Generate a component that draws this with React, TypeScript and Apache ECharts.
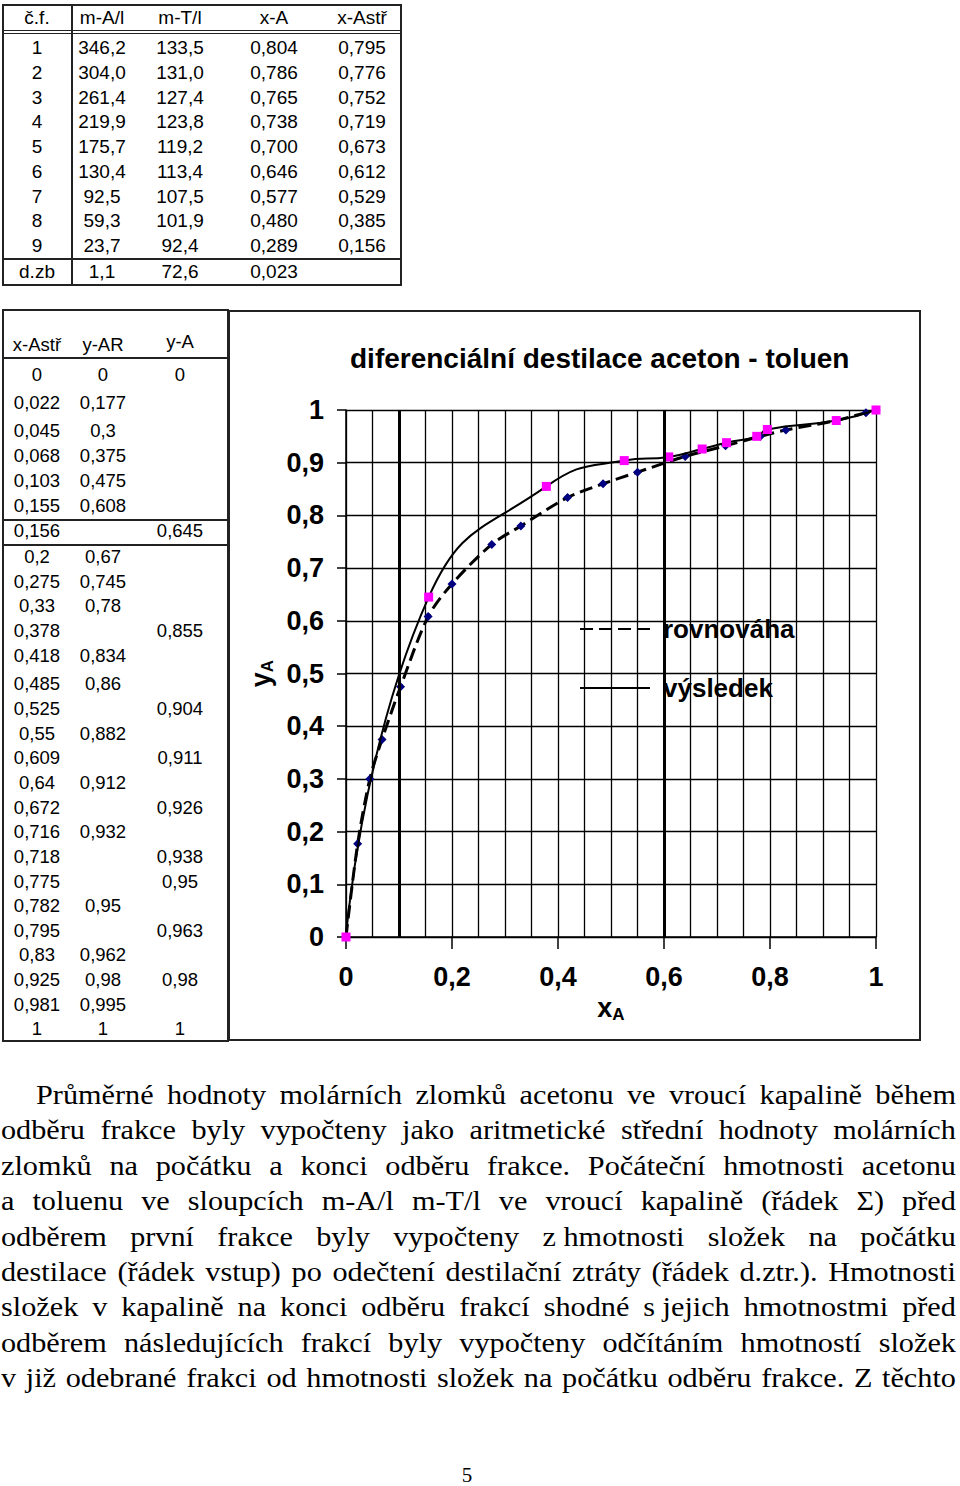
import React, { useEffect, useRef } from "react";
import * as echarts from "echarts";

// ---- Top table: fractions ----
const fractionLabels = ["1", "2", "3", "4", "5", "6", "7", "8", "9"];
const massA = [346.2, 304.0, 261.4, 219.9, 175.7, 130.4, 92.5, 59.3, 23.7];
const massT = [133.5, 131.0, 127.4, 123.8, 119.2, 113.4, 107.5, 101.9, 92.4];
const xAValues = [0.804, 0.786, 0.765, 0.738, 0.7, 0.646, 0.577, 0.48, 0.289];
const xAStrValues = [0.795, 0.776, 0.752, 0.719, 0.673, 0.612, 0.529, 0.385, 0.156];
const lossLabel = "d.zb";
const lossMassA = 1.1;
const lossMassT = 72.6;
const lossXA = 0.023;
const topHeaders = ["č.f.", "m-A/l", "m-T/l", "x-A", "x-Astř"];

// ---- Second table / chart data ----
const tableHeaders = ["x-Astř", "y-AR", "y-A"];
const xAStr = [
  0, 0.022, 0.045, 0.068, 0.103, 0.155, 0.156, 0.2, 0.275, 0.33, 0.378, 0.418, 0.485, 0.525,
  0.55, 0.609, 0.64, 0.672, 0.716, 0.718, 0.775, 0.782, 0.795, 0.83, 0.925, 0.981, 1,
];
const yAR: (number | null)[] = [
  0, 0.177, 0.3, 0.375, 0.475, 0.608, null, 0.67, 0.745, 0.78, null, 0.834, 0.86, null,
  0.882, null, 0.912, null, 0.932, null, null, 0.95, null, 0.962, 0.98, 0.995, 1,
];
const yA: (number | null)[] = [
  0, null, null, null, null, null, 0.645, null, null, null, 0.855, null, null, 0.904,
  null, 0.911, null, 0.926, null, 0.938, 0.95, null, 0.963, null, 0.98, null, 1,
];
const heavyGridX = [0.1, 0.6];

const chartTitle = "diferenciální destilace aceton - toluen";
const seriesNames = ["rovnováha", "výsledek"];

const paragraphLines = [
  "Průměrné hodnoty molárních zlomků acetonu ve vroucí kapalině během",
  "odběru frakce byly vypočteny jako aritmetické střední hodnoty molárních",
  "zlomků na počátku a konci odběru frakce. Počáteční hmotnosti acetonu",
  "a toluenu ve sloupcích m-A/l m-T/l ve vroucí kapalině (řádek Σ) před",
  "odběrem první frakce byly vypočteny z\u00a0hmotnosti složek na počátku",
  "destilace (řádek vstup) po odečtení destilační ztráty (řádek d.ztr.). Hmotnosti",
  "složek v kapalině na konci odběru frakcí shodné s\u00a0jejich hmotnostmi před",
  "odběrem následujících frakcí byly vypočteny odčítáním hmotností složek",
  "v již odebrané frakci od hmotnosti složek na počátku odběru frakce. Z těchto",
];
const pageNumber = "5";

// layout of the side table rows (text centres, px)
const sideRowY = [
  375, 403, 431, 456, 481, 506, 531, 557, 582, 606, 631, 656, 684, 709, 734, 758, 783, 808,
  832, 857, 882, 906, 931, 955, 980, 1005, 1029,
];

const comma = (s: string) => s.replace(".", ",");
const fmtNum = (v: number) => comma(String(+v.toFixed(3)));

const SANS = '"Liberation Sans", Arial, Helvetica, sans-serif';
const SERIF = '"Liberation Serif", "Times New Roman", serif';
const LINE = "#222";

function Cell({ cx, cy, text, size = 19 }: { cx: number; cy: number; text: string; size?: number }) {
  return (
    <div
      style={{
        position: "absolute",
        left: cx - 50,
        width: 100,
        top: cy - 11,
        height: 22,
        lineHeight: "22px",
        textAlign: "center",
        fontSize: size,
        fontFamily: SANS,
        color: "#000",
        whiteSpace: "nowrap",
      }}
    >
      {text}
    </div>
  );
}

function HLine({ x1, x2, y, w = 1 }: { x1: number; x2: number; y: number; w?: number }) {
  return <div style={{ position: "absolute", left: x1, top: y, width: x2 - x1, height: w, background: LINE }} />;
}
function VLine({ x, y1, y2, w = 1 }: { x: number; y1: number; y2: number; w?: number }) {
  return <div style={{ position: "absolute", left: x, top: y1, width: w, height: y2 - y1, background: LINE }} />;
}

function TopTable() {
  const cols = [37, 102, 180, 274, 362];
  const rowY = (i: number) => 48 + i * 24.75;
  return (
    <>
      <div
        style={{
          position: "absolute",
          left: 2,
          top: 4,
          width: 400,
          height: 282,
          border: `2px solid ${LINE}`,
          boxSizing: "border-box",
        }}
      />
      <VLine x={71} y1={4} y2={286} w={1.5} />
      <HLine x1={2} x2={402} y={30} w={1.2} />
      <HLine x1={2} x2={402} y={33} w={1.2} />
      <HLine x1={2} x2={402} y={258} w={1.5} />
      {topHeaders.map((h, j) => (
        <Cell key={"h" + j} cx={cols[j]} cy={18} text={h} />
      ))}
      {fractionLabels.map((f, i) => (
        <React.Fragment key={"r" + i}>
          <Cell cx={cols[0]} cy={rowY(i)} text={f} />
          <Cell cx={cols[1]} cy={rowY(i)} text={comma(massA[i].toFixed(1))} />
          <Cell cx={cols[2]} cy={rowY(i)} text={comma(massT[i].toFixed(1))} />
          <Cell cx={cols[3]} cy={rowY(i)} text={comma(xAValues[i].toFixed(3))} />
          <Cell cx={cols[4]} cy={rowY(i)} text={comma(xAStrValues[i].toFixed(3))} />
        </React.Fragment>
      ))}
      <Cell cx={cols[0]} cy={272} text={lossLabel} />
      <Cell cx={cols[1]} cy={272} text={comma(lossMassA.toFixed(1))} />
      <Cell cx={cols[2]} cy={272} text={comma(lossMassT.toFixed(1))} />
      <Cell cx={cols[3]} cy={272} text={comma(lossXA.toFixed(3))} />
    </>
  );
}

function SideTable() {
  const cols = [37, 103, 180];
  const sep = xAStr.findIndex((_, i) => yAR[i] == null);
  const above = Math.round((sideRowY[sep - 1] + sideRowY[sep]) / 2);
  const below = Math.round((sideRowY[sep] + sideRowY[sep + 1]) / 2);
  return (
    <>
      <div
        style={{
          position: "absolute",
          left: 2,
          top: 309,
          width: 227,
          height: 733,
          border: `2px solid ${LINE}`,
          boxSizing: "border-box",
        }}
      />
      <HLine x1={2} x2={228} y={357} w={1.5} />
      <HLine x1={2} x2={228} y={above} w={1.5} />
      <HLine x1={2} x2={228} y={below} w={1.5} />
      <Cell cx={cols[0]} cy={345} text={tableHeaders[0]} size={18.5} />
      <Cell cx={cols[1]} cy={345} text={tableHeaders[1]} size={18.5} />
      <Cell cx={cols[2]} cy={342} text={tableHeaders[2]} size={18.5} />
      {xAStr.map((x, i) => (
        <React.Fragment key={"s" + i}>
          <Cell cx={cols[0]} cy={sideRowY[i]} text={fmtNum(x)} size={18.5} />
          {yAR[i] != null && <Cell cx={cols[1]} cy={sideRowY[i]} text={fmtNum(yAR[i] as number)} size={18.5} />}
          {yA[i] != null && <Cell cx={cols[2]} cy={sideRowY[i]} text={fmtNum(yA[i] as number)} size={18.5} />}
        </React.Fragment>
      ))}
    </>
  );
}

function Chart() {
  const ref = useRef<HTMLDivElement>(null);
  useEffect(() => {
    if (!ref.current) return;
    const chart = echarts.init(ref.current, null, { renderer: "svg" });
    const eqData = xAStr.map((x, i) => (yAR[i] != null ? [x, yAR[i]] : null)).filter(Boolean);
    const resData = xAStr.map((x, i) => (yA[i] != null ? [x, yA[i]] : null)).filter(Boolean);
    const axisFmt = (v: number) => comma(String(+v.toFixed(2)));
    chart.setOption({
      animation: false,
      backgroundColor: "#fff",
      textStyle: { fontFamily: SANS },
      title: {
        text: chartTitle,
        left: 116,
        top: 28,
        textStyle: { fontSize: 28, fontWeight: "bold", color: "#000", fontFamily: SANS },
      },
      legend: {
        orient: "vertical",
        left: 345,
        top: 300,
        itemWidth: 70,
        itemHeight: 14,
        itemGap: 33,
        data: seriesNames,
        itemStyle: { color: "rgba(0,0,0,0)", borderWidth: 0 },
        textStyle: { fontSize: 26, fontWeight: "bold", color: "#000", fontFamily: SANS, padding: [0, 0, 0, 8] },
      },
      grid: { left: 117, right: 44, top: 99, bottom: 103 },
      xAxis: {
        type: "value",
        min: 0,
        max: 1,
        interval: 0.2,
        name: "{x|x}{s|A}",
        nameLocation: "middle",
        nameGap: 55,
        nameTextStyle: {
          rich: {
            x: { fontSize: 27, fontWeight: "bold", color: "#000", fontFamily: SANS, lineHeight: 30 },
            s: { fontSize: 17, fontWeight: "bold", color: "#000", fontFamily: SANS, lineHeight: 30, verticalAlign: "bottom" },
          },
        },
        axisLine: { show: true, onZero: false, lineStyle: { color: "#000", width: 1.5 } },
        axisTick: { show: true, length: 12, lineStyle: { color: "#000", width: 1.5 } },
        axisLabel: {
          formatter: axisFmt,
          fontSize: 27,
          fontWeight: "bold",
          color: "#000",
          margin: 26,
          fontFamily: SANS,
        },
        splitLine: { show: true, lineStyle: { color: "#000", width: 1.3 } },
        minorTick: { show: false, splitNumber: 4 },
        minorSplitLine: { show: true, lineStyle: { color: "#000", width: 1.3 } },
      },
      yAxis: {
        type: "value",
        min: 0,
        max: 1,
        interval: 0.1,
        name: "{y|y}{s|A}",
        nameLocation: "middle",
        nameRotate: 90,
        nameGap: 70,
        nameTextStyle: {
          rich: {
            y: { fontSize: 27, fontWeight: "bold", color: "#000", fontFamily: SANS, lineHeight: 30 },
            s: { fontSize: 17, fontWeight: "bold", color: "#000", fontFamily: SANS, lineHeight: 30, verticalAlign: "bottom" },
          },
        },
        axisLine: { show: true, onZero: false, lineStyle: { color: "#000", width: 1.5 } },
        axisTick: { show: true, length: 9, lineStyle: { color: "#000", width: 1.5 } },
        axisLabel: {
          formatter: axisFmt,
          fontSize: 27,
          fontWeight: "bold",
          color: "#000",
          margin: 22,
          fontFamily: SANS,
        },
        splitLine: { show: true, lineStyle: { color: "#000", width: 1.3 } },
      },
      series: [
        {
          name: seriesNames[0],
          type: "line",
          data: eqData,
          smooth: 0.3,
          symbol: "diamond",
          symbolSize: 9,
          itemStyle: { color: "#000080" },
          lineStyle: { color: "#000", width: 3, type: [13, 6] },
          z: 3,
        },
        {
          name: seriesNames[1],
          type: "line",
          data: resData,
          smooth: 0.5,
          symbol: "rect",
          symbolSize: 9,
          itemStyle: { color: "#ff00ff" },
          lineStyle: { color: "#000", width: 2 },
          z: 4,
          markLine: {
            silent: true,
            symbol: "none",
            label: { show: false },
            lineStyle: { color: "#000", width: 3, type: "solid" },
            data: heavyGridX.map((v) => ({ xAxis: v })),
          },
        },
      ],
    });
    return () => chart.dispose();
  }, []);
  return (
    <>
      <div ref={ref} style={{ position: "absolute", left: 229, top: 311, width: 691, height: 729 }} />
      <div
        style={{
          position: "absolute",
          left: 228,
          top: 310,
          width: 693,
          height: 731,
          border: `2px solid ${LINE}`,
          boxSizing: "border-box",
          pointerEvents: "none",
        }}
      />
    </>
  );
}

function Paragraph() {
  const SCALE = 1.08;
  return (
    <>
      {paragraphLines.map((line, i) => {
        const left = i === 0 ? 36 : 1;
        const fullWidth = 956 - left;
        return (
          <div
            key={i}
            style={{
              position: "absolute",
              left,
              width: fullWidth / SCALE,
              top: 1077 + i * 35.4,
              height: 36,
              lineHeight: "36px",
              fontSize: 28,
              fontFamily: SERIF,
              color: "#000",
              display: "flex",
              justifyContent: "space-between",
              whiteSpace: "nowrap",
              transform: `scaleX(${SCALE})`,
              transformOrigin: "0 0",
            }}
          >
            {line.split(/ +/).map((w, k) => (
              <span key={k}>{w}</span>
            ))}
          </div>
        );
      })}
      <div
        style={{
          position: "absolute",
          left: 447,
          width: 40,
          top: 1464,
          height: 22,
          lineHeight: "22px",
          textAlign: "center",
          fontSize: 21,
          fontFamily: SERIF,
          color: "#000",
        }}
      >
        {pageNumber}
      </div>
    </>
  );
}

export default function App() {
  return (
    <div
      style={{
        position: "absolute",
        left: 0,
        top: 0,
        width: 960,
        height: 1486,
        background: "#fff",
        overflow: "hidden",
      }}
    >
      <TopTable />
      <SideTable />
      <Chart />
      <Paragraph />
    </div>
  );
}
